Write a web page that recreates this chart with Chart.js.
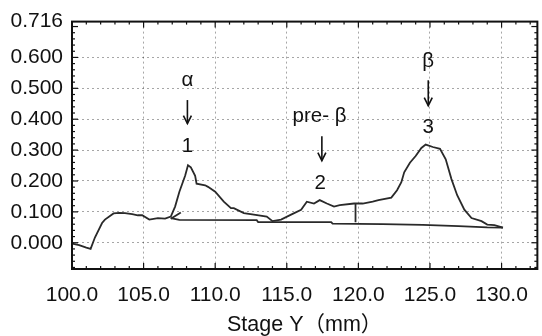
<!DOCTYPE html>
<html><head><meta charset="utf-8">
<script src="https://cdn.jsdelivr.net/npm/chart.js@4/dist/chart.umd.min.js"></script>
<style>html,body{margin:0;padding:0;background:#fff}canvas{display:block}</style>
</head><body>
<canvas id="c" width="542" height="336"></canvas>
<script>
// ---- data ----
const curveX = [100.0,100.5,101.0,101.3,101.6,102.1,102.3,102.9,103.3,103.7,104.2,104.6,104.9,105.4,106.0,106.5,106.9,
  107.2,107.5,107.9,108.1,108.3,108.6,108.7,109.3,109.5,110.0,110.6,111.1,111.3,112.0,112.7,113.6,114.0,114.6,115.3,
  116.0,116.4,116.9,117.3,117.8,118.3,118.7,119.7,120.3,121.0,121.4,122.3,122.7,123.0,123.2,123.6,124.0,124.4,124.7,
  125.2,125.7,126.1,126.5,126.9,127.4,127.9,128.6,129.0,129.5,130.1];
const curveY = [-0.003,-0.008,-0.016,-0.020,0.017,0.064,0.075,0.095,0.097,0.096,0.093,0.089,0.089,0.075,0.080,0.078,0.085,
  0.117,0.165,0.217,0.251,0.244,0.217,0.191,0.186,0.181,0.165,0.133,0.112,0.112,0.096,0.091,0.085,0.070,0.075,0.091,
  0.107,0.133,0.127,0.138,0.127,0.117,0.122,0.127,0.127,0.133,0.138,0.146,0.170,0.196,0.228,0.259,0.281,0.307,0.318,
  0.310,0.304,0.270,0.206,0.154,0.107,0.080,0.070,0.059,0.057,0.049];
const baseX = [106.9,107.5,112.9,113.0,118.1,118.2,121.7,124.5,127.0,129.0,130.1];
const baseY = [0.080,0.074,0.073,0.067,0.067,0.062,0.060,0.058,0.054,0.050,0.049];
const sep1X = [106.9,107.6];
const sep1Y = [0.078,0.098];
const sep2X = [119.8,119.8];
const sep2Y = [0.128,0.066];
const xTicks = [100,105,110,115,120,125,130];
const xTickLabels = ['100.0','105.0','110.0','115.0','120.0','125.0','130.0'];
const yTicks = [0,0.1,0.2,0.3,0.4,0.5,0.6,0.716];
const yTickLabels = ['0.000','0.100','0.200','0.300','0.400','0.500','0.600','0.716'];
const peakTexts = ['α','1','pre- β','2','β','3'];
const peakTextX = [108.06,108.06,117.29,117.34,124.88,124.88];
const peakTextY = [0.526,0.313,0.408,0.191,0.587,0.373];
const arrowX = [108.06,117.45,124.88];
const arrowTop = [0.462,0.345,0.526];
const arrowBottom = [0.386,0.266,0.444];

// ---- styling ----
const FONT = "'Liberation Sans', 'Noto Sans CJK JP', sans-serif";
const INK = '#111';
const LINE = '#2a2a2a';

const pts = (xs, ys) => xs.map((v, i) => ({x: v, y: ys[i]}));
const ds = (xs, ys) => ({data: pts(xs, ys), borderColor: LINE, borderWidth: 1.8, pointRadius: 0, tension: 0, fill: false});

const framePlugin = {
  id: 'frame',
  afterDatasetsDraw(chart) {
    const {ctx, chartArea: a, scales: {x, y}} = chart;
    ctx.save();
    const seg = (x1, y1, x2, y2) => { ctx.beginPath(); ctx.moveTo(x1, y1); ctx.lineTo(x2, y2); ctx.stroke(); };
    ctx.strokeStyle = INK;
    ctx.lineWidth = 1.2;
    for (let i = Math.ceil(x.min); i <= x.max; i++) {
      const px = x.getPixelForValue(i);
      const len = i % 5 === 0 ? 6 : 3;
      seg(px, a.bottom, px, a.bottom - len);
      seg(px, a.top, px, a.top + len);
    }
    for (let k = Math.ceil(y.min / 0.02); k * 0.02 <= y.max; k++) {
      const py = y.getPixelForValue(k * 0.02);
      const len = k % 5 === 0 ? 6 : 3;
      seg(a.left, py, a.left + len, py);
      seg(a.right, py, a.right - len, py);
    }
    ctx.lineWidth = 2;
    ctx.strokeRect(a.left, a.top, a.right - a.left, a.bottom - a.top);
    // annotations
    ctx.fillStyle = INK;
    ctx.font = '20.5px ' + FONT;
    ctx.textAlign = 'center';
    ctx.textBaseline = 'middle';
    peakTexts.forEach((t, i) => ctx.fillText(t, x.getPixelForValue(peakTextX[i]), y.getPixelForValue(peakTextY[i])));
    ctx.lineWidth = 1.6;
    arrowX.forEach((v, i) => {
      const px = x.getPixelForValue(v);
      const t = y.getPixelForValue(arrowTop[i]);
      const b = y.getPixelForValue(arrowBottom[i]);
      seg(px, t, px, b);
      ctx.beginPath(); ctx.moveTo(px - 4, b - 8); ctx.lineTo(px, b); ctx.lineTo(px + 4, b - 8); ctx.stroke();
    });
    ctx.restore();
  }
};

new Chart(document.getElementById('c'), {
  type: 'line',
  data: { datasets: [ds(curveX, curveY), ds(baseX, baseY), ds(sep1X, sep1Y), ds(sep2X, sep2Y)] },
  options: {
    responsive: false,
    devicePixelRatio: 1,
    animation: false,
    events: [],
    layout: { padding: { top: 16.5, right: 2, left: 0, bottom: 0 } },
    plugins: { legend: { display: false }, tooltip: { enabled: false } },
    scales: {
      x: {
        type: 'linear', min: 100, max: 132.5,
        afterBuildTicks: s => { s.ticks = xTicks.map(v => ({value: v})); },
        afterFit: s => { s.height = 67; },
        ticks: { callback: (v) => xTickLabels[xTicks.indexOf(v)], color: INK, font: { family: FONT, size: 21 }, padding: 14, maxRotation: 0, autoSkip: false },
        grid: { color: 'rgba(0,0,0,0.35)', lineWidth: 1, drawTicks: false },
        border: { display: false, dash: [2, 3] },
        title: { display: true, text: 'Stage Y（mm）', color: INK, font: { family: FONT, size: 21.5, lineHeight: 1 }, padding: { top: 0, bottom: 0.5 } }
      },
      y: {
        type: 'linear', min: -0.085, max: 0.716,
        afterBuildTicks: s => { s.ticks = yTicks.map(v => ({value: v})); },
        afterFit: s => { s.width = 72; },
        ticks: { callback: (v) => yTickLabels[yTicks.indexOf(v)], color: INK, font: { family: FONT, size: 21 }, padding: 9, autoSkip: false },
        grid: { color: 'rgba(0,0,0,0.35)', lineWidth: 1, drawTicks: false },
        border: { display: false, dash: [2, 3] }
      }
    }
  },
  plugins: [framePlugin]
});
</script>
</body></html>
